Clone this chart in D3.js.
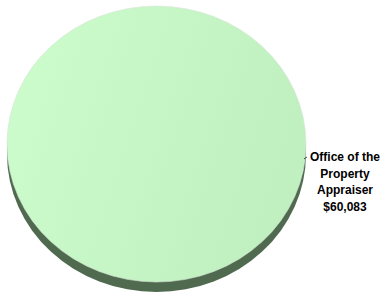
<!DOCTYPE html>
<html>
<head>
<meta charset="utf-8">
<script src="https://cdn.jsdelivr.net/npm/d3@7"></script>
<style>
  html, body { margin: 0; padding: 0; background: #ffffff; }
  svg { display: block; }
</style>
</head>
<body>
<svg id="chart" width="381" height="295"></svg>
<script>
// chart data
var categories = ["Office of the Property Appraiser"];
var values = [60083];
var label_lines = [["Office of the", "Property", "Appraiser", "$60,083"]];
var slice_colors = ["#c8f7c8"];
var side_colors = ["#4f6a4f"];

var width = 381, height = 295;
var cx = 156.5, cy = 144, rx = 149.5, ry = 138, depth = 10;

var svg = d3.select("#chart");

var defs = svg.append("defs");
var grad = defs.append("linearGradient")
	.attr("id", "face_grad")
	.attr("x1", "0").attr("y1", "0")
	.attr("x2", "1").attr("y2", "0.3");
grad.append("stop").attr("offset", "0").attr("stop-color", "#cdfccd");
grad.append("stop").attr("offset", "1").attr("stop-color", "#c0efc0");

var pie = d3.pie().sort(null).value(function(d) { return d; });
var arcs = pie(values);
var arc = d3.arc().innerRadius(0).outerRadius(rx);

// side of the 3D pie: same slices pushed down, squashed into an ellipse
svg.append("g")
	.attr("transform", "translate(" + cx + "," + (cy + depth) + ") scale(1," + (ry / rx) + ")")
	.selectAll("path")
	.data(arcs)
	.enter()
	.append("path")
	.attr("d", arc)
	.attr("fill", function(d, i) { return side_colors[i]; });

// top face
svg.append("g")
	.attr("transform", "translate(" + cx + "," + cy + ") scale(1," + (ry / rx) + ")")
	.selectAll("path")
	.data(arcs)
	.enter()
	.append("path")
	.attr("d", arc)
	.attr("fill", "url(#face_grad)")
	.attr("stroke", "#d8e4d8")
	.attr("stroke-width", 0.6)
	.attr("vector-effect", "non-scaling-stroke");

// data label with a short leader
var label_x = 345, label_y = 161, line_h = 16.5;

arcs.forEach(function(d, i)
{
	svg.append("line")
		.attr("x1", cx + rx - 2).attr("y1", label_y - 2)
		.attr("x2", cx + rx + 1).attr("y2", label_y - 4)
		.attr("stroke", "#404040")
		.attr("stroke-width", 1);

	var text = svg.append("text")
		.attr("x", label_x)
		.attr("y", label_y)
		.attr("text-anchor", "middle")
		.attr("font-family", "'Liberation Sans', Arial, sans-serif")
		.attr("font-weight", "bold")
		.attr("font-size", 12)
		.attr("fill", "#000000");

	label_lines[i].forEach(function(line, j)
	{
		text.append("tspan")
			.attr("x", label_x)
			.attr("y", label_y + j * line_h)
			.text(line);
	});
});
</script>
</body>
</html>
